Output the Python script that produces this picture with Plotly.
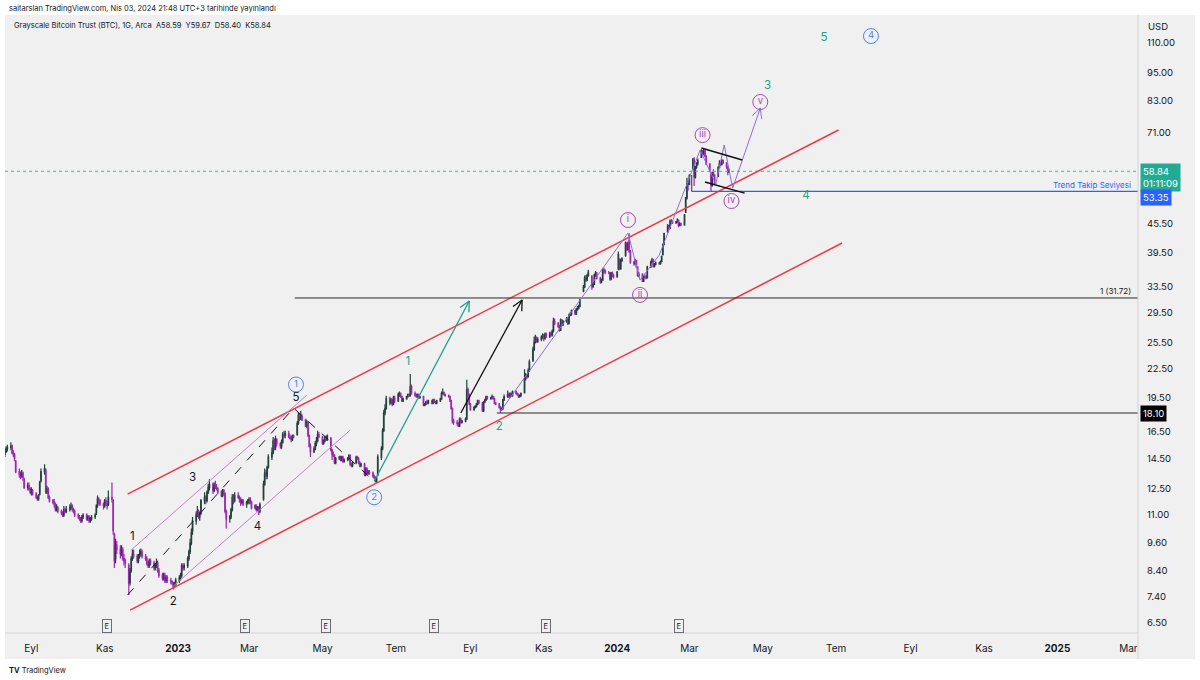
import math
import pandas as pd
import plotly.graph_objects as go

# ---------------- daily candles, GBTC (Arca), 10 Aug 2022 -> 03 Apr 2024 ----------------
opens = [
    14.8, 15.0, 15.2, 15.3, 15.4, 14.9, 14.8, 14.3, 13.6, 13.4, 13.3, 13.5, 13.1, 12.6, 12.7, 12.5,
    12.3, 12.4, 12.2, 12.0, 11.9, 12.2, 13.0, 13.6, 13.7, 12.3, 12.5, 12.0, 11.8, 11.7, 11.6, 11.3, 11.4, 11.2, 11.1, 11.0, 11.3, 11.2,
    11.3, 11.4, 11.5, 11.3, 11.2, 11.0, 10.9, 10.8, 10.7, 10.9, 11.0, 10.8, 10.9, 10.7, 10.8, 10.9, 11.1, 11.5, 11.9, 11.8, 11.6,
    11.5, 11.8, 11.6, 11.6, 12.0, 11.8, 10.0, 8.9, 9.5, 9.3, 9.1, 9.3, 8.9, 8.8, 8.6, 7.9, 8.4, 8.9, 9.1, 9.0, 8.8, 9.0,
    9.1, 9.2, 9.0, 8.9, 8.7, 8.6, 8.8, 8.7, 8.5, 8.6, 8.7, 8.4, 8.2, 8.1, 8.2, 8.0, 8.1, 8.0, 7.95, 7.9, 7.75, 7.85,
    8.0, 8.1, 8.2, 8.6, 8.5, 8.6, 8.9, 9.2, 9.6, 10.2, 10.7, 11.0, 11.2, 10.9, 11.1, 11.8, 12.0, 11.8, 12.3, 12.6, 12.8, 12.4,
    12.7, 12.6, 12.5, 12.3, 12.1, 12.4, 12.2, 11.2, 10.8, 10.9, 11.3, 12.0, 11.8, 12.1, 12.0, 11.9, 11.7, 11.8, 11.6, 11.7,
    11.8, 11.9, 11.7, 11.4, 11.5, 11.3, 11.4, 11.2, 11.9, 12.8, 13.5, 13.3, 13.9, 14.6, 14.9, 15.8, 15.3, 15.9, 15.6, 15.4, 15.7, 16.3, 16.2,
    16.4, 16.1, 16.0, 15.9, 16.2, 16.3, 17.2, 17.9, 17.6, 17.8, 17.5, 17.0, 17.3, 16.2, 15.4, 15.0, 15.2, 15.6, 15.8, 16.3,
    16.1, 15.6, 15.8, 16.1, 15.9, 16.0, 15.1, 14.8, 14.7, 14.2, 14.5, 14.6, 14.4, 14.6, 14.3, 14.4, 14.5, 14.7, 14.1, 14.0, 14.2, 14.6, 14.5,
    14.2, 14.0, 14.1, 13.4, 13.8, 13.5, 13.6, 13.5, 13.3, 13.2, 13.0, 13.4, 14.6, 15.2, 16.6, 18.1, 18.5, 19.4, 19.0, 19.3, 18.9, 19.5,
    19.2, 19.8, 19.9, 19.6, 19.2, 19.4, 19.6, 19.8, 19.7, 20.6, 19.9, 19.7, 19.6, 19.8, 19.5, 19.6, 18.8, 18.9, 19.1, 19.0, 19.2,
    19.0, 19.3, 19.1, 19.0, 19.2, 19.4, 19.9, 20.0, 19.8, 19.7, 19.6, 19.2, 18.5, 17.4, 17.3, 17.2, 17.0, 17.6, 17.3, 17.4, 17.6, 20.3, 19.8,
    18.9, 18.4, 18.6, 18.7, 18.9, 19.2, 19.0, 18.3, 19.1, 19.3, 19.6, 19.4, 19.5, 19.6, 19.4, 19.0, 18.9, 18.6, 18.4, 18.5, 19.3,
    19.6, 19.8, 19.6, 19.9, 19.7, 20.1, 19.9, 19.8, 19.6, 19.7, 20.0, 21.4, 21.8, 21.6, 22.3, 23.4, 24.7, 25.6, 26.1, 25.7, 25.9, 26.2,
    26.4, 26.0, 26.6, 26.3, 26.7, 26.5, 27.0, 28.3, 28.0, 27.6, 27.1, 28.5, 27.8, 28.3, 28.7, 28.0, 29.2, 29.3, 29.8, 29.4, 30.0, 30.2,
    30.4, 32.8, 33.5, 35.0, 34.6, 35.4, 35.2, 33.6, 33.9, 35.5, 35.8, 34.9, 34.3, 34.6, 36.4, 36.2, 35.9, 35.9, 34.8, 35.8, 35.4,
    35.2, 36.5, 38.4, 36.6, 38.1, 39.0, 41.5, 40.2, 42.0, 39.8, 37.8, 37.5, 38.0, 36.9, 35.4, 35.6, 34.4, 35.2, 35.1, 35.0, 36.9, 37.8, 38.2,
    37.0, 37.4, 37.6, 37.5, 37.9, 39.2, 41.2, 43.8, 45.1, 44.6, 46.2, 46.1, 45.8, 46.0, 46.4, 45.2, 45.6, 45.3, 48.2, 51.6, 55.4,
    55.2, 59.5, 62.4, 57.2, 60.1, 61.0, 63.0, 64.4, 64.2, 65.0, 63.4, 61.0, 58.0, 55.0, 58.4, 57.8, 57.5, 60.0, 61.2, 60.8, 62.0,
    61.3, 60.1, 58.59,
]
highs = [
    15.2, 15.4, 15.5, 15.7, 15.5, 15.1, 14.9, 14.4, 13.8, 13.6, 13.7, 13.6, 13.2, 12.9, 12.9, 12.6,
    12.6, 12.5, 12.3, 12.1, 12.2, 13.0, 13.8, 14.1, 13.8, 12.7, 12.6, 12.1, 11.9, 11.9, 11.7, 11.6, 11.5, 11.3, 11.2, 11.5, 11.4, 11.5,
    11.6, 11.7, 11.6, 11.4, 11.3, 11.1, 11.0, 10.9, 11.0, 11.1, 11.1, 11.0, 11.0, 10.9, 11.0, 11.1, 11.6, 12.1, 12.0, 11.9, 11.7,
    11.9, 12.0, 11.8, 12.4, 12.9, 11.9, 10.1, 9.8, 9.7, 9.5, 9.5, 9.4, 9.1, 8.9, 8.7, 8.5, 9.0, 9.3, 9.3, 9.1, 9.1, 9.3,
    9.35, 9.3, 9.1, 9.0, 8.8, 8.9, 8.9, 8.8, 8.7, 8.9, 8.8, 8.5, 8.3, 8.3, 8.3, 8.2, 8.2, 8.1, 8.0, 7.95, 7.95, 8.1,
    8.2, 8.3, 8.7, 8.7, 8.7, 9.0, 9.3, 9.8, 10.3, 10.9, 11.2, 11.5, 11.3, 11.2, 11.9, 12.3, 12.1, 12.4, 12.8, 13.1, 12.9, 12.9,
    13.0, 12.8, 12.6, 12.4, 12.5, 12.5, 12.3, 11.3, 11.0, 11.4, 12.2, 12.2, 12.3, 12.3, 12.1, 12.0, 11.9, 11.9, 11.8, 11.9,
    12.0, 12.0, 11.8, 11.6, 11.6, 11.5, 11.5, 11.7, 13.0, 13.8, 13.7, 14.0, 14.8, 15.3, 16.1, 16.0, 16.2, 16.0, 15.7, 15.9, 16.5, 16.6, 16.6,
    16.6, 16.3, 16.2, 16.3, 16.3, 17.4, 18.2, 18.1, 18.3, 18.0, 17.6, 17.5, 17.4, 16.3, 15.6, 15.4, 15.8, 16.1, 16.6, 16.5,
    16.2, 15.9, 16.2, 16.2, 16.3, 16.1, 15.2, 15.0, 14.8, 14.6, 14.7, 14.7, 14.7, 14.7, 14.5, 14.6, 14.8, 14.8, 14.2, 14.3, 14.7, 14.7, 14.6,
    14.3, 14.2, 14.2, 13.9, 13.9, 13.7, 13.7, 13.6, 13.4, 13.3, 13.3, 14.8, 15.4, 16.8, 18.4, 18.9, 19.7, 19.6, 19.5, 19.4, 19.7, 19.7,
    20.0, 20.1, 20.0, 19.7, 19.5, 19.7, 19.9, 19.9, 21.9, 20.8, 20.1, 19.9, 19.9, 19.9, 19.7, 19.7, 19.0, 19.2, 19.3, 19.3, 19.3,
    19.4, 19.4, 19.2, 19.3, 19.5, 20.1, 20.4, 20.1, 19.9, 19.8, 19.7, 19.3, 18.6, 17.6, 17.5, 17.3, 17.7, 17.7, 17.5, 17.7, 21.3, 20.5, 19.9,
    19.0, 18.7, 18.8, 19.0, 19.3, 19.3, 19.1, 19.2, 19.4, 19.7, 19.7, 19.6, 19.8, 19.7, 19.5, 19.1, 19.0, 18.7, 18.6, 19.4, 19.8,
    20.2, 20.0, 20.0, 20.0, 20.2, 20.2, 20.0, 19.9, 19.8, 20.0, 22.4, 22.0, 21.9, 22.5, 23.5, 25.0, 26.3, 26.5, 26.3, 26.2, 26.4, 26.7,
    26.6, 26.8, 26.8, 26.9, 26.9, 27.2, 28.8, 28.7, 28.2, 27.8, 28.7, 28.6, 28.5, 28.9, 28.9, 29.4, 29.6, 30.0, 29.9, 30.2, 30.5, 30.7,
    31.6, 33.8, 35.4, 35.5, 35.7, 36.4, 35.5, 34.3, 35.7, 36.2, 36.0, 35.2, 34.9, 36.7, 36.8, 36.5, 36.2, 36.0, 36.0, 36.1, 35.7,
    36.2, 39.8, 38.5, 38.4, 38.7, 41.8, 41.6, 41.8, 43.5, 40.1, 38.0, 38.4, 38.2, 37.0, 36.0, 35.8, 35.5, 35.7, 35.4, 37.1, 38.1, 38.6, 38.4,
    37.6, 37.9, 37.8, 38.1, 39.0, 41.4, 43.6, 45.5, 45.3, 46.5, 46.6, 46.3, 46.2, 46.8, 46.5, 45.9, 45.8, 47.8, 51.9, 57.0, 56.6,
    58.0, 62.8, 63.0, 60.4, 61.5, 62.6, 65.5, 65.3, 65.6, 65.2, 63.6, 61.2, 58.2, 58.7, 59.4, 58.0, 60.3, 62.1, 61.6, 62.5, 62.3,
    61.5, 60.3, 59.67,
]
lows = [
    14.6, 14.9, 15.0, 15.1, 14.8, 14.6, 14.3, 13.5, 13.2, 13.1, 13.2, 13.0, 12.5, 12.4, 12.4, 12.2,
    12.1, 12.1, 11.9, 11.8, 11.8, 12.1, 12.9, 13.4, 12.2, 12.2, 11.9, 11.7, 11.6, 11.4, 11.2, 11.2, 11.1, 11.0, 10.9, 10.9, 11.1, 11.1,
    11.2, 11.3, 11.2, 11.1, 10.9, 10.8, 10.7, 10.6, 10.6, 10.8, 10.7, 10.7, 10.6, 10.6, 10.7, 10.8, 11.0, 11.4, 11.6, 11.5, 11.3,
    11.4, 11.5, 11.3, 11.5, 11.7, 10.0, 8.5, 8.7, 9.1, 8.9, 9.0, 8.8, 8.6, 8.5, 7.45, 7.8, 8.3, 8.8, 8.9, 8.7, 8.7, 8.9,
    9.0, 8.9, 8.8, 8.6, 8.5, 8.5, 8.6, 8.4, 8.4, 8.5, 8.3, 8.1, 8.0, 8.0, 7.9, 7.9, 7.9, 7.85, 7.8, 7.65, 7.7, 7.8,
    7.9, 8.0, 8.1, 8.4, 8.4, 8.5, 8.8, 9.1, 9.5, 10.0, 10.5, 10.9, 10.8, 10.7, 11.0, 11.6, 11.6, 11.7, 12.2, 12.4, 12.2, 12.3,
    12.5, 12.4, 12.2, 12.0, 12.0, 12.1, 11.1, 10.3, 10.6, 10.8, 11.2, 11.6, 11.7, 11.9, 11.7, 11.5, 11.6, 11.5, 11.4, 11.6,
    11.6, 11.6, 11.3, 11.3, 11.2, 11.2, 11.0, 11.1, 11.8, 12.7, 13.1, 13.1, 13.8, 14.4, 14.8, 15.1, 15.1, 15.4, 15.2, 15.2, 15.6, 16.0, 16.0,
    16.0, 15.9, 15.7, 15.8, 16.0, 16.2, 17.1, 17.4, 17.5, 17.4, 16.9, 16.8, 16.1, 15.3, 14.6, 14.9, 15.1, 15.4, 15.7, 16.0,
    15.5, 15.5, 15.7, 15.8, 15.8, 15.0, 14.4, 14.6, 14.1, 14.1, 14.4, 14.3, 14.3, 14.2, 14.2, 14.3, 14.4, 14.0, 13.9, 13.9, 14.1, 14.4, 14.1,
    13.9, 13.9, 13.3, 13.3, 13.4, 13.4, 13.4, 13.2, 13.1, 12.9, 12.9, 13.3, 14.4, 15.1, 16.5, 17.9, 18.4, 18.8, 18.9, 18.7, 18.8, 19.0,
    19.1, 19.6, 19.5, 19.1, 19.1, 19.3, 19.5, 19.6, 19.6, 19.8, 19.6, 19.5, 19.5, 19.4, 19.4, 18.7, 18.7, 18.8, 18.9, 18.9, 18.9,
    18.9, 19.0, 18.9, 18.9, 19.1, 19.3, 19.8, 19.7, 19.6, 19.5, 19.1, 18.4, 17.2, 17.1, 17.0, 16.9, 16.9, 17.2, 17.2, 17.3, 17.5, 19.6, 18.8,
    18.3, 18.3, 18.5, 18.6, 18.8, 18.9, 18.2, 18.2, 19.0, 19.2, 19.3, 19.3, 19.4, 19.3, 18.9, 18.8, 18.5, 18.1, 18.3, 18.4, 19.2,
    19.5, 19.5, 19.5, 19.6, 19.6, 19.8, 19.7, 19.5, 19.5, 19.6, 19.9, 21.2, 21.4, 21.5, 22.1, 23.2, 24.5, 25.4, 25.5, 25.5, 25.7, 26.0,
    25.7, 25.9, 26.1, 26.1, 26.3, 26.3, 26.8, 27.8, 27.4, 26.9, 27.0, 27.6, 27.7, 28.1, 27.8, 27.9, 29.0, 29.1, 29.2, 29.2, 29.8, 30.0,
    30.3, 32.6, 33.3, 34.3, 34.4, 35.2, 33.0, 33.3, 33.8, 35.2, 34.7, 34.0, 34.1, 34.5, 35.8, 35.6, 35.6, 34.5, 34.6, 35.1, 34.9,
    35.0, 36.3, 36.3, 36.4, 37.8, 38.8, 39.9, 40.0, 39.5, 37.5, 37.1, 37.3, 36.7, 35.2, 35.1, 34.3, 34.3, 34.9, 34.7, 34.9, 36.7, 37.6, 36.8,
    36.8, 37.2, 37.3, 37.3, 37.7, 39.0, 41.0, 43.6, 44.2, 44.4, 45.8, 45.5, 45.5, 45.8, 44.8, 45.0, 45.0, 45.1, 48.0, 51.3, 53.6,
    55.0, 59.2, 54.8, 56.8, 59.6, 60.5, 62.8, 63.5, 63.6, 63.0, 60.6, 58.6, 53.2, 54.6, 57.3, 55.2, 57.2, 59.8, 60.4, 60.6, 61.0,
    59.6, 57.7, 58.40,
]
closes = [
    15.0, 15.2, 15.3, 15.4, 14.9, 14.8, 14.5, 13.6, 13.4, 13.3, 13.5, 13.2, 12.6, 12.7, 12.5, 12.3,
    12.4, 12.2, 12.0, 11.9, 12.1, 12.9, 13.6, 13.8, 12.3, 12.5, 12.0, 11.8, 11.7, 11.6, 11.3, 11.4, 11.2, 11.1, 11.0, 11.3, 11.2, 11.3,
    11.4, 11.5, 11.3, 11.2, 11.0, 10.9, 10.8, 10.7, 10.9, 11.0, 10.8, 10.9, 10.7, 10.8, 10.9, 11.0, 11.5, 11.9, 11.8, 11.6, 11.5,
    11.8, 11.6, 11.5, 12.0, 11.9, 10.2, 8.8, 9.5, 9.3, 9.1, 9.3, 8.9, 8.8, 8.7, 7.9, 8.4, 8.9, 9.1, 9.0, 8.8, 9.0, 9.1,
    9.2, 9.0, 8.9, 8.7, 8.6, 8.8, 8.7, 8.5, 8.6, 8.7, 8.4, 8.2, 8.1, 8.2, 8.0, 8.1, 8.0, 7.95, 7.9, 7.75, 7.85, 8.0,
    8.1, 8.2, 8.6, 8.5, 8.6, 8.9, 9.2, 9.6, 10.1, 10.7, 11.0, 11.2, 10.9, 11.1, 11.8, 12.0, 11.8, 12.3, 12.6, 12.8, 12.4, 12.7,
    12.6, 12.5, 12.3, 12.1, 12.4, 12.2, 11.2, 10.8, 10.9, 11.3, 12.0, 11.8, 12.1, 12.0, 11.9, 11.7, 11.8, 11.6, 11.7, 11.8,
    11.9, 11.7, 11.4, 11.5, 11.3, 11.4, 11.2, 11.6, 12.8, 13.5, 13.3, 13.9, 14.6, 14.9, 15.8, 15.3, 15.9, 15.6, 15.4, 15.7, 16.3, 16.2, 16.4,
    16.1, 16.0, 15.9, 16.2, 16.1, 17.2, 17.9, 17.6, 17.8, 17.5, 17.0, 17.3, 16.2, 15.4, 15.0, 15.2, 15.6, 15.8, 16.3, 16.1,
    15.6, 15.8, 16.1, 15.9, 16.2, 15.1, 14.8, 14.7, 14.2, 14.5, 14.6, 14.4, 14.6, 14.3, 14.4, 14.5, 14.7, 14.1, 14.0, 14.2, 14.6, 14.5, 14.2,
    14.0, 14.1, 13.4, 13.8, 13.5, 13.6, 13.5, 13.3, 13.2, 13.0, 13.2, 14.6, 15.2, 16.6, 18.1, 18.5, 19.4, 19.0, 19.3, 18.9, 19.5, 19.2,
    19.8, 19.9, 19.6, 19.2, 19.4, 19.6, 19.8, 19.7, 20.6, 19.9, 19.7, 19.6, 19.8, 19.5, 19.6, 18.8, 18.9, 19.1, 19.0, 19.2, 19.0,
    19.3, 19.1, 19.0, 19.2, 19.4, 19.9, 20.0, 19.8, 19.7, 19.6, 19.2, 18.5, 17.4, 17.3, 17.2, 17.0, 17.6, 17.3, 17.4, 17.6, 20.3, 19.8, 18.9,
    18.4, 18.6, 18.7, 18.9, 19.2, 19.0, 18.3, 19.1, 19.3, 19.6, 19.4, 19.5, 19.6, 19.4, 19.0, 18.9, 18.6, 18.4, 18.5, 19.3, 19.6,
    19.8, 19.6, 19.9, 19.7, 20.1, 19.9, 19.8, 19.6, 19.7, 19.9, 21.4, 21.8, 21.6, 22.3, 23.2, 24.7, 25.6, 26.1, 25.7, 25.9, 26.2, 26.4,
    26.0, 26.6, 26.3, 26.7, 26.5, 27.0, 28.3, 28.0, 27.6, 27.1, 28.5, 27.8, 28.3, 28.7, 28.0, 29.2, 29.3, 29.8, 29.4, 30.0, 30.2, 30.4,
    31.4, 33.5, 35.0, 34.6, 35.4, 36.0, 33.6, 33.9, 35.5, 35.8, 34.9, 34.3, 34.6, 36.4, 36.2, 35.9, 35.9, 34.8, 35.8, 35.4, 35.2,
    36.0, 39.2, 36.6, 38.1, 38.4, 41.5, 40.2, 41.4, 39.8, 37.8, 37.5, 38.0, 36.9, 35.4, 35.6, 34.4, 35.2, 35.1, 35.0, 36.9, 37.8, 38.2, 37.0,
    37.4, 37.6, 37.5, 37.9, 38.8, 41.2, 43.4, 45.1, 44.6, 46.2, 46.1, 45.8, 46.0, 46.4, 45.2, 45.6, 45.3, 47.6, 51.6, 55.4, 55.2,
    57.6, 62.4, 57.2, 60.1, 61.0, 62.0, 65.2, 64.4, 65.0, 63.4, 61.0, 59.2, 55.0, 58.4, 57.8, 55.6, 60.0, 61.2, 60.8, 62.0, 61.3,
    60.1, 58.6, 58.84,
]
dates = pd.bdate_range("2022-08-10", periods=len(closes))

# axis ticks
price_ticks = [6.5, 7.4, 8.4, 9.6, 11, 12.5, 14.5, 16.5, 19.5, 22.5, 25.5, 29.5, 33.5, 39.5, 45.5, 71, 83, 95, 110]
month_ticks = ["2022-09-01", "2022-11-01", "2023-01-01", "2023-03-01", "2023-05-01", "2023-07-01", "2023-09-01",
               "2023-11-01", "2024-01-01", "2024-03-01", "2024-05-01", "2024-07-01", "2024-09-01", "2024-11-01",
               "2025-01-01", "2025-03-01"]
month_names = ["Eyl", "Kas", "<b>2023</b>", "Mar", "May", "Tem", "Eyl", "Kas", "<b>2024</b>", "Mar", "May", "Tem",
               "Eyl", "Kas", "<b>2025</b>", "Mar"]
earnings_dates = ["2022-11-03", "2023-02-26", "2023-05-04", "2023-08-02", "2023-11-03", "2024-02-21"]

last_price = 58.84
trend_level = 53.35
fib_level = 31.72
w2_level = 18.10

# plot geometry (pixels)
L, R, T, B = 5, 1138, 16, 633
W, H = R - L, B - T
X0, X1 = pd.Timestamp("2022-08-10 02:00"), pd.Timestamp("2025-03-09")
YLO, YHI = math.log10(6.19), math.log10(125.5)

def to_px(d, p):
    d = pd.Timestamp(d)
    return (d - X0) / (X1 - X0) * W, (math.log10(p) - YLO) / (YHI - YLO) * H

def from_px(x, y):
    return X0 + (X1 - X0) * (x / W), 10 ** (YLO + y / H * (YHI - YLO))

def px(x):
    return (x - L) / W

def py(y):
    return (B - y) / H

BG = "#f0f0f0"
RED = "#f23645"
TEAL = "#22a08a"
BLUE = "#4f83f1"
PURP = "#ab47bc"
INK = "#131722"
LINE = "#2a2a2a"
FONT = "Inter"

fig = go.Figure()
fig.add_trace(go.Candlestick(
    x=dates, open=opens, high=highs, low=lows, close=closes,
    increasing=dict(line=dict(color="#22403a", width=1.2), fillcolor="#22403a"),
    decreasing=dict(line=dict(color="#9c27b0", width=1.2), fillcolor="#9c27b0"),
    whiskerwidth=0, showlegend=False, hoverinfo="skip"))


def seg(xs, ys, color, width=1.0, dash="solid"):
    fig.add_trace(go.Scatter(x=xs, y=ys, mode="lines", line=dict(color=color, width=width, dash=dash),
                             hoverinfo="skip", showlegend=False))


def arrow(d0, p0, d1, p1, color, width=1.3):
    seg([d0, d1], [p0, p1], color, width)
    ax0, ay0 = to_px(d0, p0)
    ax1, ay1 = to_px(d1, p1)
    n = math.hypot(ax1 - ax0, ay1 - ay0)
    ux, uy = (ax1 - ax0) / n, (ay1 - ay0) / n
    a = from_px(ax1 - 10 * ux - 5 * uy, ay1 - 10 * uy + 5 * ux)
    b = from_px(ax1 - 10 * ux + 5 * uy, ay1 - 10 * uy - 5 * ux)
    seg([a[0], pd.Timestamp(d1), b[0]], [a[1], p1, b[1]], color, width)


# current price line
seg([X0, X1], [last_price, last_price], "#3fb8a2", 1, "dot")

# main red channel
seg(["2022-11-20", "2024-07-03"], [12.19, 71.96], RED, 1.5)
seg(["2022-11-22", "2024-07-06"], [6.92, 41.47], RED, 1.5)

# wave (1) sub-channel
seg(["2022-11-23", "2023-04-18"], [9.28, 19.75], "#c17fd9", 1)
seg(["2022-12-28", "2023-05-24"], [7.78, 16.65], "#c17fd9", 1)
seg(["2022-11-20", "2023-04-07", "2023-06-13"], [7.45, 18.54, 12.98], INK, 1, "dash")

# horizontal levels
seg(["2023-04-08", X1], [fib_level, fib_level], LINE, 1)
seg(["2023-09-23", X1], [w2_level, w2_level], LINE, 1)
seg(["2024-03-03", X1], [trend_level, trend_level], "#2962ff", 1.2)
seg(["2024-03-03", "2024-03-03"], [trend_level, 57.8], LINE, 1)

# arrows
arrow("2023-06-13", 12.98, "2023-08-31", 31.25, "#1e9e8a")
arrow("2023-08-24", 18.1, "2023-10-14", 31.4, "#111111")

# wave path (purple)
seg(["2023-09-25", "2024-01-10", "2024-01-20", "2024-02-05", "2024-03-10", "2024-03-23", "2024-03-30", "2024-04-06"],
    [18.1, 43.55, 34.62, 39.1, 65.27, 55.3, 66.9, 54.2], "#8f6bd8", 1)
arrow("2024-04-06", 54.2, "2024-04-29", 80.1, "#8f6bd8", 1)

# flag
seg(["2024-03-11", "2024-04-14"], [65.9, 62.2], "#111111", 1.5)
seg(["2024-03-14", "2024-04-16"], [55.85, 52.9], "#111111", 1.5)

# plain labels
lbl_black_x = ["2023-04-09", "2022-11-24", "2022-12-28", "2023-01-13", "2023-03-08"]
lbl_black_y = [19.5, 9.88, 7.19, 13.18, 10.38]
lbl_black_t = ["5", "1", "2", "3", "4"]
lbl_teal_x = ["2023-07-11", "2023-09-25", "2024-05-05", "2024-06-06", "2024-06-21"]
lbl_teal_y = [23.2, 16.9, 89.2, 52.2, 112.7]
lbl_teal_t = ["1", "2", "3", "4", "5"]
fig.add_trace(go.Scatter(x=lbl_black_x, y=lbl_black_y, text=lbl_black_t, mode="text",
                         textfont=dict(color=INK, size=11.5, family=FONT), hoverinfo="skip", showlegend=False))
fig.add_trace(go.Scatter(x=lbl_teal_x, y=lbl_teal_y, text=lbl_teal_t, mode="text",
                         textfont=dict(color=TEAL, size=11.5, family=FONT), hoverinfo="skip", showlegend=False))

# circled labels
circ_blue_x = ["2023-04-09", "2023-06-13", "2024-07-30"]
circ_blue_y = [20.8, 12.0, 113.8]
circ_blue_t = ["1", "2", "4"]
circ_purp_x = ["2024-01-10", "2024-01-20", "2024-03-12", "2024-04-05", "2024-04-29"]
circ_purp_y = [46.4, 32.2, 70.2, 50.9, 82.5]
circ_purp_t = ["i", "ii", "iii", "iv", "v"]
for xs, ys, ts, c in [(circ_blue_x, circ_blue_y, circ_blue_t, BLUE), (circ_purp_x, circ_purp_y, circ_purp_t, PURP)]:
    fig.add_trace(go.Scatter(x=xs, y=ys, text=ts, mode="markers+text", textposition="middle center",
                             marker=dict(symbol="circle-open", size=15, color=c, line=dict(width=1)),
                             textfont=dict(color=c, size=9.5, family=FONT), hoverinfo="skip", showlegend=False))

ann = []
# header
ann.append(dict(x=px(7), y=py(8), xref="paper", yref="paper", xanchor="left", yanchor="middle", showarrow=False,
                text="saitarslan TradingView.com, Nis 03, 2024 21:48 UTC+3 tarihinde yayınlandı",
                font=dict(size=7.5, color=INK, family=FONT)))
ann.append(dict(x=px(12), y=py(26), xref="paper", yref="paper", xanchor="left", yanchor="middle", showarrow=False,
                text="Grayscale Bitcoin Trust (BTC), 1G, Arca  A58.59  Y59.67  D58.40  K58.84",
                font=dict(size=7.5, color=INK, family=FONT)))
ann.append(dict(x=px(1146), y=py(27), xref="paper", yref="paper", xanchor="left", yanchor="middle", showarrow=False,
                text="USD", font=dict(size=9.5, color=INK, family=FONT)))
ann.append(dict(x=px(7), y=py(670), xref="paper", yref="paper", xanchor="left", yanchor="middle", showarrow=False,
                text="<b>TV</b> TradingView", font=dict(size=7.5, color=INK, family=FONT)))

# level texts
ann.append(dict(x=px(1133), y=math.log10(55.0), xref="paper", yref="y", xanchor="right", yanchor="middle",
                showarrow=False, text="Trend Takip Seviyesi", font=dict(size=8, color="#2962ff", family=FONT)))
ann.append(dict(x=px(1133), y=math.log10(32.8), xref="paper", yref="y", xanchor="right", yanchor="middle",
                showarrow=False, text="1 (31.72)", font=dict(size=8, color=INK, family=FONT)))

# price boxes on the scale
ann.append(dict(x=px(1140), y=math.log10(57.2), xref="paper", yref="y", xanchor="left", yanchor="middle",
                showarrow=False, align="left", text="%.2f<br>01:11:09" % last_price, bgcolor="#22ab94",
                borderpad=2, font=dict(size=9.5, color="white", family=FONT)))
ann.append(dict(x=px(1140), y=math.log10(51.9), xref="paper", yref="y", xanchor="left", yanchor="middle",
                showarrow=False, text="%.2f" % trend_level, bgcolor="#2962ff", borderpad=2,
                font=dict(size=9.5, color="white", family=FONT)))
ann.append(dict(x=px(1140), y=math.log10(w2_level), xref="paper", yref="y", xanchor="left", yanchor="middle",
                showarrow=False, text="%.2f" % w2_level, bgcolor="#000000", borderpad=2,
                font=dict(size=9.5, color="white", family=FONT)))

# earnings markers
for d in earnings_dates:
    ann.append(dict(x=d, y=py(626), xref="x", yref="paper", xanchor="center", yanchor="middle", showarrow=False,
                    text="E", bgcolor=BG, bordercolor="#6a6d78", borderwidth=1, borderpad=1.5,
                    font=dict(size=7.5, color=INK, family=FONT)))

shapes = [
    dict(type="rect", xref="paper", yref="paper", x0=0, x1=px(1195), y0=py(659), y1=py(15),
         fillcolor=BG, line=dict(width=0), layer="below"),
    dict(type="line", xref="paper", yref="paper", x0=0, x1=1, y0=0, y1=0, line=dict(color="#d4d4d4", width=1)),
    dict(type="line", xref="paper", yref="paper", x0=1, x1=1, y0=py(659), y1=py(15),
         line=dict(color="#d4d4d4", width=1)),
]

fig.update_layout(
    width=1200, height=680,
    margin=dict(l=L, r=1200 - R, t=T, b=680 - B),
    paper_bgcolor="white", plot_bgcolor=BG,
    font=dict(family=FONT, color=INK, size=10),
    showlegend=False, hovermode=False,
    annotations=ann, shapes=shapes,
    xaxis=dict(type="date", range=[X0, X1], rangeslider=dict(visible=False), showgrid=False, zeroline=False,
               tickmode="array", tickvals=month_ticks, ticktext=month_names, ticks="", ticklabelstandoff=8,
               tickfont=dict(size=10, color=INK, family=FONT)),
    yaxis=dict(type="log", side="right", range=[YLO, YHI], showgrid=False, zeroline=False,
               tickmode="array", tickvals=price_ticks, ticktext=["%.2f" % v for v in price_ticks],
               ticks="", ticklabelstandoff=8, tickfont=dict(size=9.5, color=INK, family=FONT)),
)

# page has a default 8px body margin; drop it so the figure sits at the window corner
fig.write_html("out.html", config={"displayModeBar": False},
               post_script="document.body.style.margin='0px';")
